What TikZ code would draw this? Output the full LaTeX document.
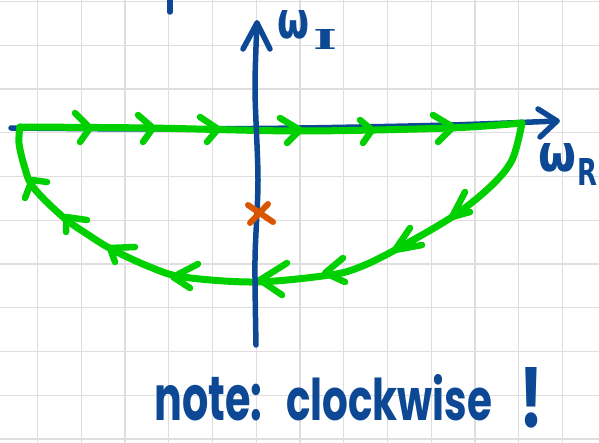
\documentclass[tikz,border=0pt]{standalone}
\usepackage{graphicx}
\usepackage{fontspec}
\newfontfamily\hand{Poppins}
\newfontfamily\greek{DejaVu Sans}
\newfontfamily\serifhand{DejaVu Serif}
\definecolor{penblue}{RGB}{12,72,148}
\definecolor{pengreen}{RGB}{0,208,0}
\definecolor{penorange}{RGB}{218,85,0}
\definecolor{gridgray}{RGB}{222,222,222}
\tikzset{
  gridline/.style={draw=gridgray, line width=1.4pt},
  axis/.style={draw=penblue, line width=5.5pt, line cap=round, line join=round},
  contour/.style={draw=pengreen, line width=7pt, line cap=round, line join=round},
  chevron/.style={draw=pengreen, line width=6.5pt, line cap=round, line join=round},
  pole/.style={draw=penorange, line width=6pt, line cap=round},
  lbl/.style={text=penblue, inner sep=0pt},
}
\begin{document}
\begin{tikzpicture}[x=1pt,y=-1pt]
\useasboundingbox[fill=white] (0,0) rectangle (599,443);
% grid
\foreach \gx in {37.5,81.25,...,590} {\draw[gridline] (\gx,0) -- (\gx,443);}
\foreach \gy in {1.5,45.25,...,443} {\draw[gridline] (0,\gy) -- (599,\gy);}
% stray stroke at top
\coordinate (s1) at (170,0);
\coordinate (s2) at (170,12);
\draw[axis] (s1) -- (s2);
% real axis
\coordinate (rl) at (11,128);
\coordinate (rr) at (557,121);
\draw[axis] plot[smooth,tension=0.5] coordinates {(rl) (150,129) (300,128) (450,125) (rr)};
\draw[axis] (538,109) -- (rr) -- (540,137);
% contour
\coordinate (cl) at (20,127);
\coordinate (cr) at (522,123);
\draw[contour] plot[smooth,tension=0.5] coordinates {(cl) (150,128) (300,131) (450,128) (cr)};
\draw[contour] plot[smooth,tension=0.55] coordinates {(cr) (512,160) (490,187) (452,217) (395,250) (360,267) (330,275) (255,282) (183,277) (150,267) (113,250) (90,236) (63,217) (33,187) (24,165) (19,143) (cl)};
% chevrons on top edge
\draw[chevron] (75,113) -- (90,128) -- (80,142);
\draw[chevron] (138,115) -- (153,128) -- (143,142);
\draw[chevron] (200,117) -- (218,129) -- (207,142);
\draw[chevron] (280,118) -- (300,130) -- (287,143);
\draw[chevron] (360,120) -- (372,130) -- (363,143);
\draw[chevron] (433,115) -- (453,127) -- (438,142);
% chevrons on lower arc
\draw[chevron] (465,192) -- (452,217) -- (470,212);
\draw[chevron] (410,228) -- (395,250) -- (422,245);
\draw[chevron] (343,258) -- (325,273) -- (345,282);
\draw[chevron] (287,263) -- (260,280) -- (282,295);
\draw[chevron] (198,264) -- (173,277) -- (190,288);
\draw[chevron] (135,247) -- (110,248) -- (115,262);
\draw[chevron] (87,220) -- (66,217) -- (66,232);
\draw[chevron] (47,182) -- (32,180) -- (25,198);
% imaginary axis
\coordinate (it) at (257,23);
\coordinate (ib) at (256,345);
\draw[axis] plot[smooth,tension=0.5] coordinates {(it) (255,90) (258,180) (255,260) (ib)};
\draw[axis] (243,49) -- (it) -- (270,49);
% pole
\draw[pole] (248,205) -- (273,222);
\draw[pole] (268,204) -- (250,223);
% labels
\node[lbl] (wI) at (293,25) {\resizebox{32pt}{28pt}{\greek\bfseries ω}};
\node[lbl] (I) at (325,40) {\resizebox{24pt}{20pt}{\serifhand\bfseries I}};
\node[lbl] (wR) at (557,158) {\resizebox{38pt}{28pt}{\greek\bfseries ω}};
\node[lbl] (R) at (587,172) {\resizebox{20pt}{27pt}{\greek\bfseries R}};
\node[lbl, anchor=south west] (note) at (154,421) {\resizebox{108pt}{46pt}{\hand\bfseries\vphantom{l}note:}};
\node[lbl, anchor=south west] (cw) at (286,421) {\resizebox{206pt}{46pt}{\hand\bfseries clockwise}};
\node[lbl] (bang) at (531,398) {\resizebox{24pt}{60pt}{\hand\bfseries !}};
\end{tikzpicture}
\end{document}
